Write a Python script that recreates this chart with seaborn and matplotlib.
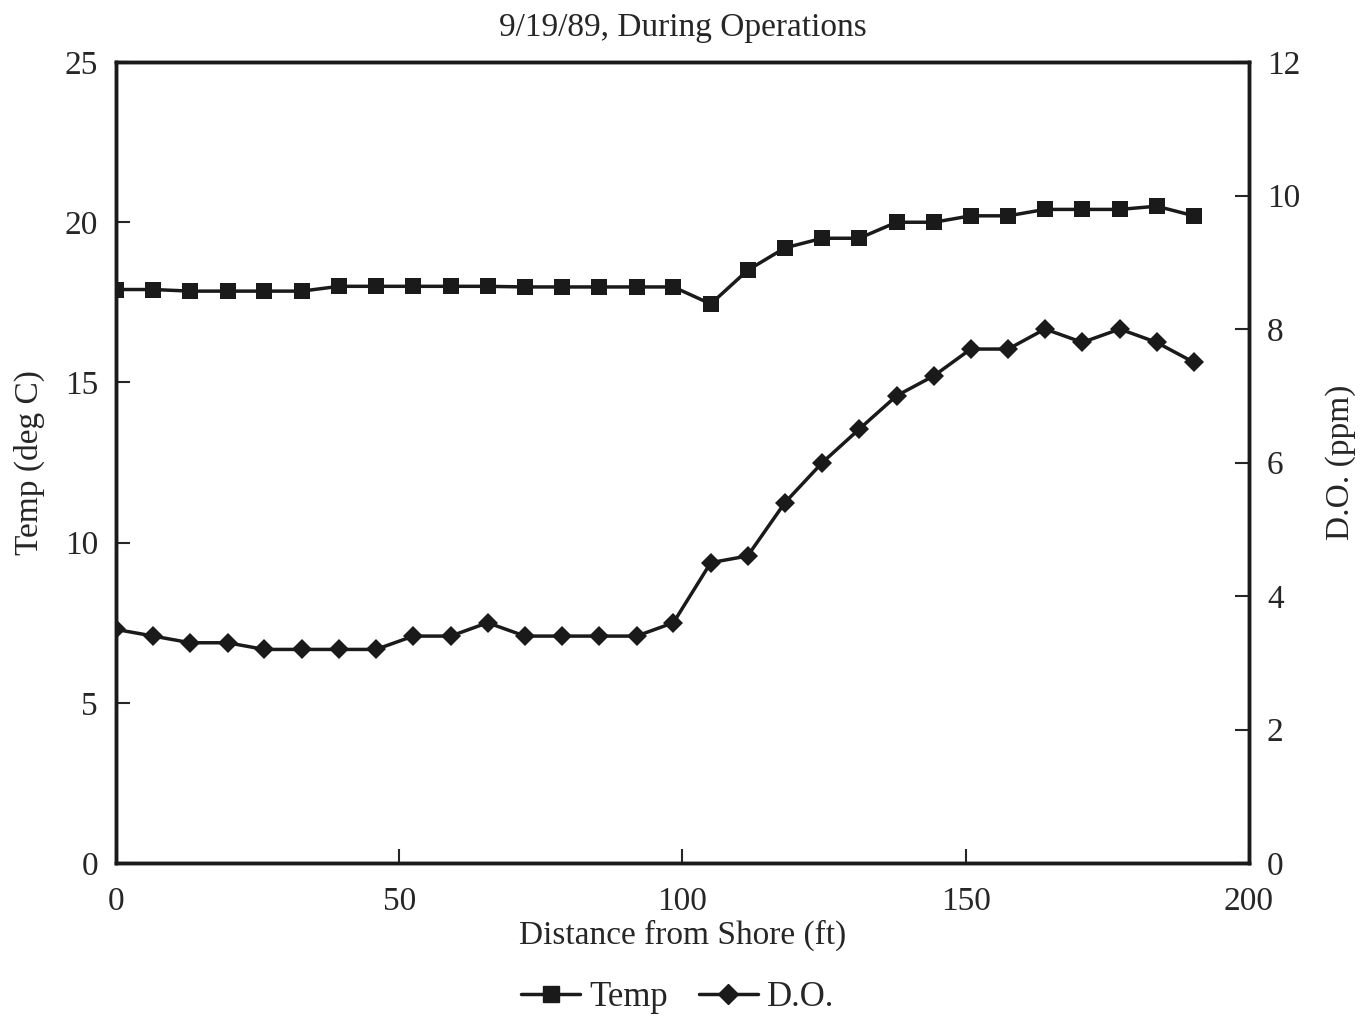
import numpy as np
import pandas as pd
import matplotlib
matplotlib.use("Agg")
import matplotlib.pyplot as plt
import seaborn as sns
from matplotlib.lines import Line2D

# Data (distance in ft, stations every 2 m)
distance_ft = [0.0, 6.6, 13.1, 19.7, 26.2, 32.8, 39.4, 45.9, 52.5, 59.1,
               65.6, 72.2, 78.7, 85.3, 91.9, 98.4, 105.0, 111.5, 118.1, 124.7,
               131.2, 137.8, 144.4, 150.9, 157.5, 164.0, 170.6, 177.2, 183.7, 190.3]
temp_c = [17.9, 17.9, 17.85, 17.85, 17.85, 17.85, 18.0, 18.0, 18.0, 18.0,
          18.0, 17.98, 17.98, 17.98, 17.98, 17.98, 17.45, 18.5, 19.2, 19.5,
          19.5, 20.0, 20.0, 20.2, 20.2, 20.4, 20.4, 20.4, 20.5, 20.2]
do_ppm = [3.5, 3.4, 3.3, 3.3, 3.2, 3.2, 3.2, 3.2, 3.4, 3.4,
          3.6, 3.4, 3.4, 3.4, 3.4, 3.6, 4.5, 4.6, 5.4, 6.0,
          6.5, 7.0, 7.3, 7.7, 7.7, 8.0, 7.8, 8.0, 7.8, 7.5]

title_plot = '9/19/89, During Operations'

df = pd.DataFrame({'Distance': distance_ft, 'Temp': temp_c, 'DO': do_ppm})

sns.set_style('ticks')
plt.rcParams['font.family'] = ['Liberation Serif', 'DejaVu Serif']
fs = 24

fig = plt.figure(figsize=(13.69, 10.17), dpi=100)
ax = fig.add_axes([0.0847, 0.1514, 0.8276, 0.7876])
ax2 = ax.twinx()

sns.lineplot(data=df, x='Distance', y='Temp', ax=ax, color='#1a1a1a',
             marker='s', markersize=11, linewidth=2.5, markeredgewidth=0)
sns.lineplot(data=df, x='Distance', y='DO', ax=ax2, color='#1a1a1a',
             marker='D', markersize=10, linewidth=2.5, markeredgewidth=0)

ax.set_xlim(0, 200)
ax.set_ylim(0, 25)
ax2.set_ylim(0, 12)
ax.set_xticks([0, 50, 100, 150, 200])
ax.set_yticks([0, 5, 10, 15, 20, 25])
ax2.set_yticks([0, 2, 4, 6, 8, 10, 12])

for a in (ax, ax2):
    a.tick_params(direction='in', length=10, width=1.5, labelsize=fs, pad=13)
    for s in a.spines.values():
        s.set_linewidth(2.5)
        s.set_color('#1a1a1a')
ax.tick_params(axis='x', pad=17)

ax.set_xlabel('Distance from Shore (ft)', fontsize=fs, labelpad=2)
ax.set_ylabel('Temp (deg C)', fontsize=fs, labelpad=14)
ax2.set_ylabel('D.O. (ppm)', fontsize=fs, labelpad=18)
ax.set_title(title_plot, fontsize=fs, pad=19)

handles = [Line2D([], [], color='#1a1a1a', marker='s', markersize=11, linewidth=2.5),
           Line2D([], [], color='#1a1a1a', marker='D', markersize=10, linewidth=2.5)]
fig.legend(handles, ['Temp', 'D.O.'], loc='center', bbox_to_anchor=(0.495, 0.019),
           ncol=2, frameon=False, fontsize=25, handlelength=1.7, columnspacing=0.9,
           handletextpad=0.25)

fig.savefig('out.png', dpi=100, facecolor='white')
